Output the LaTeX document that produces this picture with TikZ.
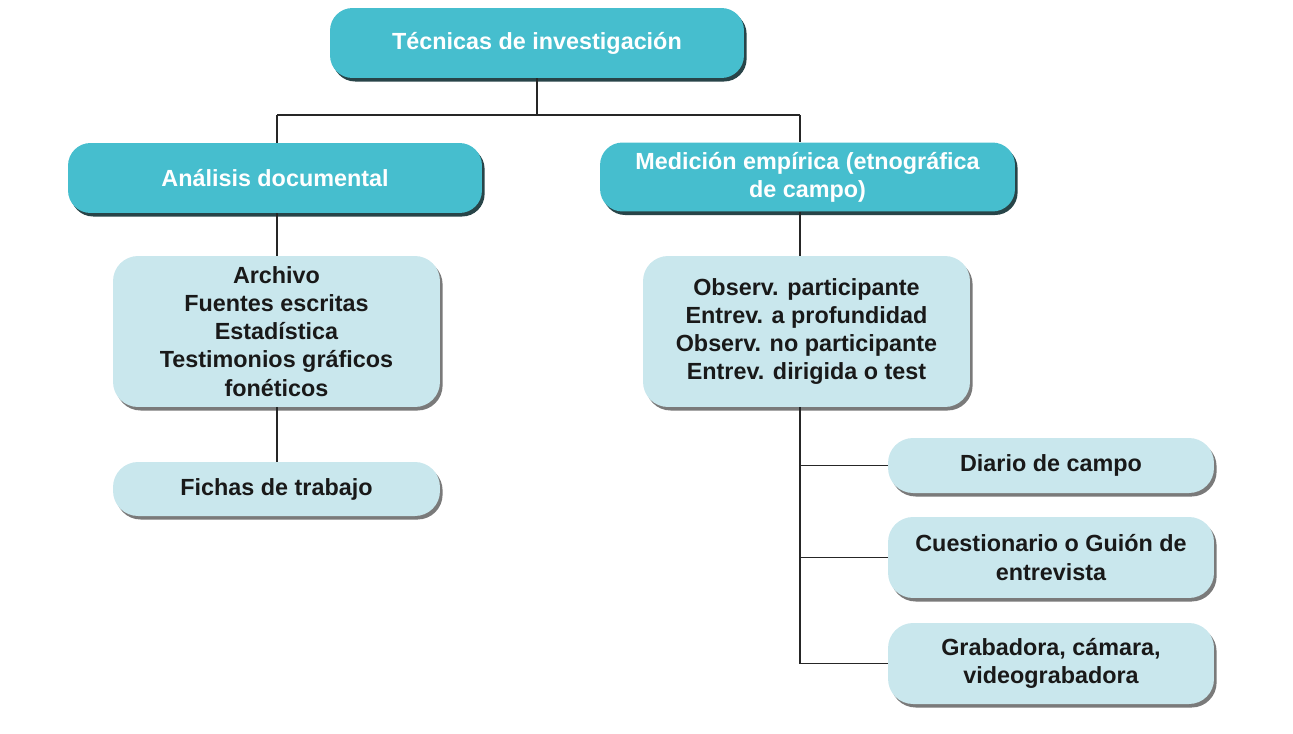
\documentclass[tikz,border=0pt]{standalone}
\usepackage{fontspec}
\setmainfont{Liberation Sans}
\usetikzlibrary{calc,shadows}
\definecolor{tealbox}{RGB}{70,190,206}
\definecolor{lightbox}{RGB}{201,231,237}
\tikzset{
	darkbox/.style={rectangle, rounded corners=0.45cm, fill=tealbox, text=white, align=center, inner sep=0pt,
		font=\bfseries\fontsize{13.3}{16}\selectfont,
		drop shadow={shadow xshift=1.5pt, shadow yshift=-2pt, fill=black!75!tealbox, opacity=0.9}},
	lightbox/.style={rectangle, rounded corners=0.5cm, fill=lightbox, text=black!90, align=center, inner sep=0pt,
		font=\bfseries\fontsize{13.3}{16}\selectfont,
		drop shadow={shadow xshift=1.5pt, shadow yshift=-2pt, fill=black!65, opacity=0.8}},
	link/.style={line width=0.9pt, draw=black!85}
}

\begin{document}
\begin{tikzpicture}[x=0.02cm, y=-0.02cm]
		%%%%% START %%%%%
		\useasboundingbox (0, 0) rectangle (1293, 733);
		
		\coordinate (jL) at (277, 115);
		\coordinate (jR) at (800, 115);
		
		\node[darkbox, minimum width=8.28cm, minimum height=1.4cm] (tec) at (537, 43) {T\'ecnicas de investigaci\'on};
		\node[darkbox, minimum width=8.28cm, minimum height=1.4cm] (ana) at (275, 178) {An\'alisis documental};
		\node[darkbox, minimum width=8.3cm, minimum height=1.38cm] (med) at (807.5, 177) {Medici\'on emp\'irica (etnogr\'afica\\de campo)};
		
		\node[lightbox, minimum width=6.54cm, minimum height=3.02cm] (arch) at (276.5, 331.5) {Archivo\\Fuentes escritas\\Estad\'istica\\Testimonios gr\'aficos\\fon\'eticos};
		\node[lightbox, minimum width=6.54cm, minimum height=1.08cm] (fichas) at (276.5, 489) {Fichas de trabajo};
		
		\node[lightbox, minimum width=6.54cm, minimum height=3.02cm] (obs) at (806.5, 331.5) {Observ. participante\\Entrev. a profundidad\\Observ. no participante\\Entrev. dirigida o test};
		
		\node[lightbox, minimum width=6.52cm, minimum height=1.1cm] (diario) at (1051, 465.5) {Diario de campo};
		\node[lightbox, minimum width=6.52cm, minimum height=1.62cm] (cuest) at (1051, 557.5) {Cuestionario o Gui\'on de\\entrevista};
		\node[lightbox, minimum width=6.52cm, minimum height=1.62cm] (graba) at (1051, 663.5) {Grabadora, c\'amara,\\videograbadora};
		
		\begin{scope}[on background layer/.try]
		\draw[link] (tec.south) -- (tec.south |- jL);
		\draw[link] (jL) -- (jR);
		\draw[link] (jL) -- (jL |- ana.north);
		\draw[link] (jR) -- (jR |- med.north);
		
		\draw[link] (jL |- ana.south) -- (jL |- arch.north);
		\draw[link] (jL |- arch.south) -- (jL |- fichas.north);
		
		\draw[link] (jR |- med.south) -- (jR |- obs.north);
		\draw[link] (jR |- obs.south) -- (jR |- graba.west) -- (graba.west);
		\draw[link] (jR |- diario.west) -- (diario.west);
		\draw[link] (jR |- cuest.west) -- (cuest.west);
		\end{scope}
		%%%%% END %%%%%
	\end{tikzpicture}
\end{document}
